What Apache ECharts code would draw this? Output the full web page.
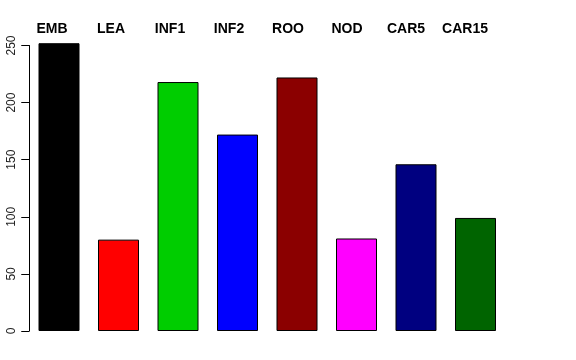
<!DOCTYPE html>
<html>
<head>
<meta charset="utf-8">
<script src="https://cdn.jsdelivr.net/npm/echarts@6/dist/echarts.min.js"></script>
<style>html,body{margin:0;padding:0;background:#fff;}#c{width:576px;height:360px;}</style>
</head>
<body>
<div id="c"></div>
<script>
var categories = ['EMB', 'LEA', 'INF1', 'INF2', 'ROO', 'NOD', 'CAR5', 'CAR15'];
var values = [252, 80, 218, 172, 222, 81, 146, 99];
var barColors = ['#000000', '#FF0000', '#00CD00', '#0000FF', '#8B0000', '#FF00FF', '#000080', '#006400'];
var yTicks = [0, 50, 100, 150, 200, 250];

var chart = echarts.init(document.getElementById('c'), null, {renderer: 'canvas'});
chart.setOption({
  animation: false,
  backgroundColor: '#ffffff',
  grid: [
    {left: 29.25, width: 476, top: 45.5, bottom: 29, containLabel: false},
    {left: 22.5, width: 472, top: 45.5, bottom: 29, containLabel: false}
  ],
  xAxis: [
    {type: 'category', data: categories, gridIndex: 0, show: false},
    {type: 'category', data: categories, gridIndex: 1, position: 'top',
     axisLine: {show: false}, axisTick: {show: false},
     axisLabel: {interval: 0, margin: 9, fontFamily: 'Liberation Sans', fontWeight: 'bold', fontSize: 14, color: '#000'}}
  ],
  yAxis: [
    {type: 'value', gridIndex: 0, min: 0, max: 250, interval: 50,
     axisLine: {show: true, lineStyle: {color: '#000', width: 1}},
     axisTick: {show: true, length: 8, lineStyle: {color: '#000'}},
     splitLine: {show: false},
     axisLabel: {rotate: 90, margin: 12, fontFamily: 'Liberation Sans', fontSize: 12, color: '#222',
       formatter: function (v) { return yTicks.indexOf(v) >= 0 ? String(v) : ''; }}},
    {type: 'value', gridIndex: 1, min: 0, max: 250, show: false}
  ],
  series: [{
    type: 'bar',
    xAxisIndex: 0, yAxisIndex: 0,
    data: values.map(function (v, i) { return {value: v, itemStyle: {color: barColors[i]}}; }),
    barWidth: 41,
    clip: false,
    itemStyle: {borderColor: '#000', borderWidth: 1}
  }]
});
</script>
</body>
</html>
